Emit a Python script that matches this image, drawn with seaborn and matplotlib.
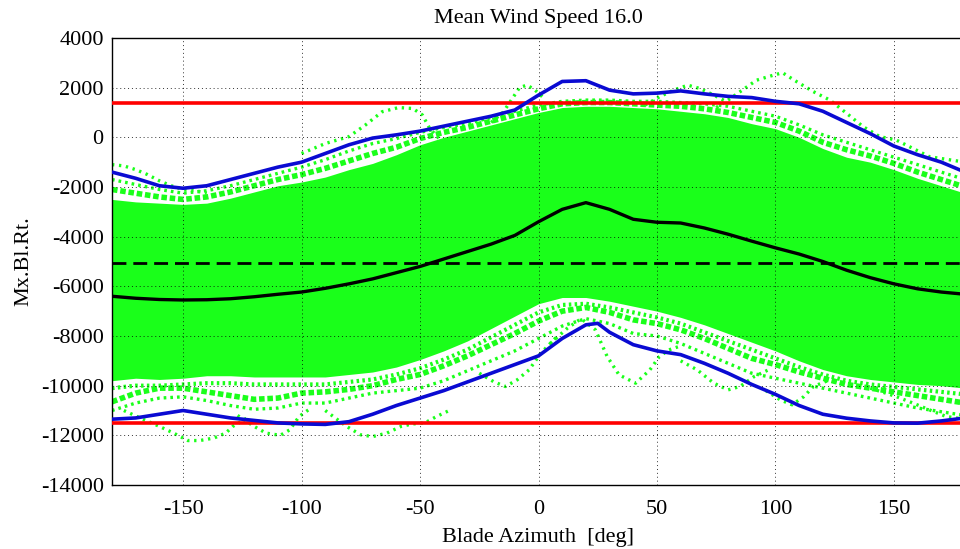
import numpy as np
import pandas as pd
import matplotlib
matplotlib.use("Agg")
import matplotlib.pyplot as plt
import seaborn as sns

# ---------------- data ----------------
az10 = [-180, -170, -160, -150, -140, -130, -120, -110, -100, -90, -80, -70, -60, -50,
        -40, -30, -20, -10, 0, 10, 20, 30, 40, 50, 60, 70, 80, 90, 100, 110, 120, 130,
        140, 150, 160, 170, 180]

blue_upper = [-1400, -1650, -1950, -2050, -1950, -1700, -1450, -1200, -1000, -650, -300,
              -30, 100, 250, 450, 650, 850, 1100, 1700, 2250, 2280, 1900, 1750, 1780, 1870,
              1750, 1650, 1600, 1450, 1350, 1050, 600, 150, -350, -700, -1000, -1400]

az_low = [-180, -170, -160, -150, -140, -130, -120, -110, -100, -90, -80, -70, -60, -50,
          -40, -30, -20, -10, 0, 10, 20, 25, 30, 40, 50, 60, 70, 80, 90, 100, 110, 120,
          130, 140, 150, 160, 170, 180]
blue_lower = [-11350, -11300, -11150, -11000, -11150, -11300, -11400, -11500, -11540,
              -11560, -11450, -11150, -10800, -10500, -10200, -9850, -9500, -9150, -8800,
              -8100, -7550, -7490, -7850, -8350, -8600, -8750, -9100, -9500, -9950, -10350,
              -10800, -11150, -11310, -11420, -11500, -11510, -11420, -11300]

mean_line = [-6400, -6480, -6530, -6550, -6540, -6500, -6420, -6320, -6230, -6080, -5900,
             -5700, -5450, -5200, -4900, -4600, -4300, -3950, -3400, -2900, -2630, -2900,
             -3300, -3420, -3450, -3650, -3900, -4180, -4450, -4700, -5000, -5350, -5650,
             -5900, -6100, -6230, -6320]

mean_level = -5070
limit_upper = 1380
limit_lower = -11510

# dense part of the green cloud
green_top = [-2500, -2600, -2650, -2700, -2650, -2450, -2200, -1950, -1800, -1600, -1300,
             -1050, -700, -300, 0, 250, 500, 750, 1000, 1200, 1250, 1250, 1200, 1150, 1050,
             950, 800, 550, 350, 0, -450, -800, -1000, -1300, -1650, -1950, -2250]
green_bottom = [-9800, -9700, -9750, -9700, -9600, -9600, -9650, -9650, -9650, -9650,
                -9550, -9450, -9250, -8950, -8600, -8200, -7700, -7200, -6700, -6450, -6450,
                -6600, -6800, -7000, -7250, -7550, -7900, -8250, -8600, -9000, -9350, -9600,
                -9750, -9850, -9950, -10000, -10100]

# fringe traces of the green cloud (outer, middle, inner)
fringe_up1 = [-1700, -1900, -2100, -2250, -2150, -1950, -1700, -1450, -1200, -900, -550,
              -250, -50, 200, 400, 550, 800, 1050, 1300, 1450, 1500, 1500, 1450, 1450, 1400,
              1350, 1250, 1050, 850, 500, 100, -200, -500, -800, -1100, -1400, -1700]
fringe_up2 = [-2100, -2250, -2400, -2500, -2400, -2200, -1950, -1700, -1500, -1250, -950,
              -650, -400, -50, 200, 400, 650, 900, 1150, 1350, 1400, 1400, 1350, 1300, 1250,
              1150, 1000, 800, 600, 250, -200, -500, -750, -1050, -1400, -1700, -2000]
fringe_lo1 = [-11000, -10700, -10500, -10450, -10600, -10800, -10950, -10900, -10700,
              -10700, -10500, -10300, -10200, -10100, -9800, -9400, -9000, -8600, -8100,
              -7600, -7300, -7500, -7900, -8000, -8300, -8700, -9100, -9500, -9700, -9900,
              -10100, -10300, -10500, -10700, -10900, -11050, -11200]
fringe_lo2 = [-10650, -10300, -10100, -10100, -10250, -10400, -10550, -10500, -10300,
              -10250, -10150, -10000, -9750, -9550, -9200, -8800, -8350, -7900, -7400,
              -7000, -6850, -7050, -7350, -7500, -7750, -8100, -8500, -8900, -9150, -9450,
              -9700, -9950, -10100, -10250, -10400, -10550, -10700]
fringe_lo3 = [-10100, -10000, -10000, -9950, -9900, -9900, -9950, -9950, -9950, -9950,
              -9850, -9750, -9550, -9300, -8950, -8550, -8050, -7550, -7050, -6750, -6700,
              -6850, -7050, -7250, -7500, -7850, -8200, -8550, -8900, -9250, -9550, -9800,
              -9950, -10050, -10150, -10250, -10350]

# individual outlying traces
out_u1_x = [-180, -175, -170, -165, -160, -155, -150, -145, -140]
out_u1_y = [-1100, -1150, -1300, -1500, -1750, -1950, -2100, -2150, -2250]
out_u2_x = [-100, -90, -80, -73, -66, -59, -53, -49, -46, -42]
out_u2_y = [-650, -250, 30, 500, 1030, 1200, 1160, 900, 370, -50]
out_u3_x = [-20, -15, -11, -8, -5, -2, 2]
out_u3_y = [600, 1000, 1570, 2000, 2100, 1950, 1600]
out_u4_x = [75, 80, 86, 92, 99, 103, 109, 116, 123, 130, 137, 144, 151, 165, 180]
out_u4_y = [1200, 1500, 1900, 2300, 2500, 2600, 2240, 1840, 1500, 970, 430, 30, -110, -780, -1000]
out_u5_x = [45, 51, 57, 63, 68, 74, 80]
out_u5_y = [1300, 1630, 1900, 2100, 1970, 1700, 1400]

out_l1_x = [-175, -167, -160, -154, -148, -143, -137, -132, -129, -123]
out_l1_y = [-11000, -11350, -11640, -11910, -12210, -12210, -12110, -11910, -11640, -11300]
out_l2_x = [-127, -120, -115, -109, -105, -101, -96]
out_l2_y = [-11200, -11640, -11910, -12000, -11780, -11240, -10900]
out_l3_x = [-90, -81, -75, -70, -64, -58, -53, -48, -43, -37]
out_l3_y = [-11000, -11640, -11980, -12050, -11910, -11640, -11540, -11500, -11240, -10970]
out_l4_x = [-25, -19, -14, -9, -4, 1, 8]
out_l4_y = [-9500, -9835, -10035, -9765, -9365, -8690, -8000]
out_l5_x = [5, 12, 18, 24, 29, 34, 41, 47, 51, 55, 60]
out_l5_y = [-8300, -7700, -7300, -7750, -8830, -9565, -9900, -9365, -8830, -8560, -8400]
out_l6_x = [60, 67, 74, 80, 85, 91, 97]
out_l6_y = [-9000, -9365, -9900, -10170, -10035, -9635, -9365]
out_l7_x = [96, 102, 107, 112, 116, 122]
out_l7_y = [-10200, -10570, -10770, -10440, -10035, -9800]
out_l8_x = [140, 151, 158, 165, 172, 180]
out_l8_y = [-10100, -10440, -10700, -10975, -11240, -11350]

x_ticks = [-150, -100, -50, 0, 50, 100, 150]
y_ticks = list(range(-14000, 4001, 2000))

title = "Mean Wind Speed 16.0"
xlabel = "Blade Azimuth  [deg]"
ylabel = "Mx.Bl.Rt."

# ---------------- plotting ----------------
sns.set_style("white")
plt.rcParams["font.family"] = ["Liberation Serif", "DejaVu Serif"]
plt.rcParams["text.color"] = "black"
plt.rcParams["axes.labelcolor"] = "black"

GREEN = "#1aff1a"
BLUE = "#0a0ad2"
FS = 16

fig = plt.figure(figsize=(9.6, 5.49), dpi=100)
ax = fig.add_axes([112 / 960, 1 - 485 / 549, 853 / 960, (485 - 38) / 549])

ax.fill_between(az10, green_bottom, green_top, color=GREEN, linewidth=0, zorder=1)

ax.plot(az10, fringe_lo3, color=GREEN, linewidth=3.0, linestyle=(0, (0.6, 0.8)), zorder=1.5)
for ys in (fringe_up1, fringe_lo1):
    ax.plot(az10, ys, color=GREEN, linewidth=2.4, linestyle=(0, (0.8, 1.2)), zorder=1.5)
for ys in (fringe_up2, fringe_lo2):
    ax.plot(az10, ys, color=GREEN, linewidth=4.0, linestyle=(0, (1.0, 0.5)), zorder=1.5)

outliers = [(out_u1_x, out_u1_y), (out_u2_x, out_u2_y), (out_u3_x, out_u3_y),
            (out_u4_x, out_u4_y), (out_u5_x, out_u5_y), (out_l1_x, out_l1_y),
            (out_l2_x, out_l2_y), (out_l3_x, out_l3_y), (out_l4_x, out_l4_y),
            (out_l5_x, out_l5_y), (out_l6_x, out_l6_y), (out_l7_x, out_l7_y),
            (out_l8_x, out_l8_y)]
for xs, ys in outliers:
    ax.plot(xs, ys, color=GREEN, linewidth=2.4, linestyle=(0, (0.7, 1.4)), zorder=1.6)

ax.axhline(limit_upper, color="#ff0000", linewidth=2.6, zorder=3)
ax.axhline(limit_lower, color="#ff0000", linewidth=2.6, zorder=3)
ax.axhline(mean_level, color="black", linewidth=2.0, linestyle=(0, (5, 2.5)), zorder=3.5)

sns.lineplot(x=az10, y=mean_line, ax=ax, color="black", linewidth=2.4, zorder=4)
sns.lineplot(x=az10, y=blue_upper, ax=ax, color=BLUE, linewidth=2.6, zorder=5)
sns.lineplot(x=az_low, y=blue_lower, ax=ax, color=BLUE, linewidth=2.6, zorder=5)

ax.set_xlim(-180, 180)
ax.set_ylim(-14000, 4000)
ax.set_xticks(x_ticks)
ax.set_yticks(y_ticks)
ax.set_xticklabels([str(t) for t in x_ticks], fontsize=FS)
ax.set_yticklabels([str(t) for t in y_ticks], fontsize=FS)
ax.tick_params(direction="in", length=4, width=0.8, colors="black", pad=6)
ax.tick_params(axis="x", pad=11)
ax.grid(True, color="black", linestyle=(0, (1, 3)), linewidth=0.7, alpha=0.8)
ax.set_axisbelow(False)
for s in ax.spines.values():
    s.set_color("black")
    s.set_linewidth(1.0)

ax.set_title(title, fontsize=FS, pad=11, color="black")
ax.set_xlabel(xlabel, fontsize=FS, color="black")
ax.set_ylabel(ylabel, fontsize=FS, color="black")
ax.xaxis.set_label_coords(0.5, -0.097)
ax.yaxis.set_label_coords((33 - 112) / 853, 0.5)

fig.savefig("out.png", dpi=100)
